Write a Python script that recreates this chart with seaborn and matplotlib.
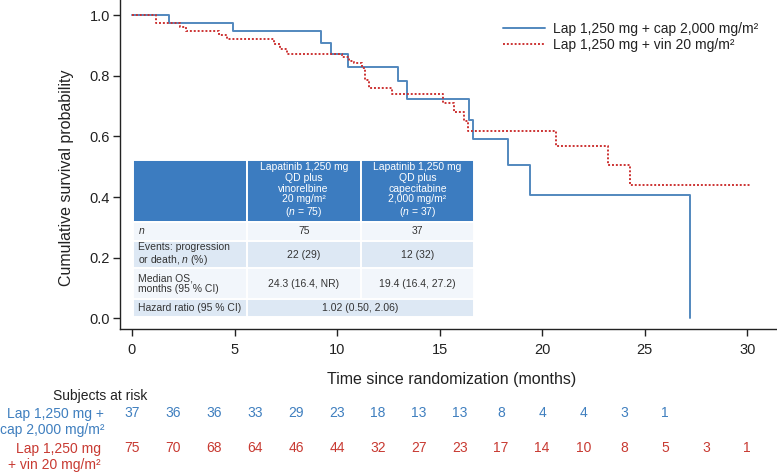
import numpy as np
import pandas as pd
import matplotlib
matplotlib.use("Agg")
import matplotlib.pyplot as plt
import matplotlib.transforms as mtransforms
from matplotlib.patches import Rectangle
import seaborn as sns

# ---------------- data ----------------
cap_label = "Lap 1,250 mg + cap 2,000 mg/m\u00b2"
vin_label = "Lap 1,250 mg + vin 20 mg/m\u00b2"

cap_time = [0, 1.82, 4.93, 9.20, 9.71, 10.52, 12.97, 13.40, 16.43, 16.62, 18.35, 19.43, 27.19]
cap_surv = [1.0, 0.973, 0.946, 0.907, 0.871, 0.830, 0.783, 0.722, 0.655, 0.590, 0.505, 0.406, 0.0]

vin_time = [0, 1.19, 2.36, 2.63, 4.26, 4.63, 6.91, 7.23, 7.56, 10.24, 10.57, 10.81, 11.22,
            11.38, 11.54, 12.70, 15.15, 15.70, 16.20, 16.37, 20.68, 23.20, 24.27, 30.20]
vin_surv = [1.0, 0.973, 0.960, 0.947, 0.933, 0.920, 0.903, 0.887, 0.870, 0.861, 0.848, 0.841,
            0.824, 0.786, 0.758, 0.740, 0.709, 0.679, 0.650, 0.619, 0.568, 0.505, 0.440, 0.440]

xticks = [0, 5, 10, 15, 20, 25, 30]
yticks = [0.0, 0.2, 0.4, 0.6, 0.8, 1.0]

risk_times_cap = [0, 2, 4, 6, 8, 10, 12, 14, 16, 18, 20, 22, 24, 26]
risk_cap = [37, 36, 36, 33, 29, 23, 18, 13, 13, 8, 4, 4, 3, 1]
risk_times_vin = [0, 2, 4, 6, 8, 10, 12, 14, 16, 18, 20, 22, 24, 26, 28, 30]
risk_vin = [75, 70, 68, 64, 46, 44, 32, 27, 23, 17, 14, 10, 8, 5, 3, 1]

tbl_header = ["",
              "Lapatinib 1,250 mg\nQD plus\nvinorelbine\n20 mg/m\u00b2\n($n$ = 75)",
              "Lapatinib 1,250 mg\nQD plus\ncapecitabine\n2,000 mg/m\u00b2\n($n$ = 37)"]
tbl_rows = [["$n$", "75", "37"],
            ["Events: progression\nor death, $n$ (%)", "22 (29)", "12 (32)"],
            ["Median OS,\nmonths (95 % CI)", "24.3 (16.4, NR)", "19.4 (16.4, 27.2)"],
            ["Hazard ratio (95 % CI)", "1.02 (0.50, 2.06)", None]]

# ---------------- style ----------------
sns.set_theme(style="ticks")
plt.rcParams["font.family"] = ["Liberation Sans", "DejaVu Sans"]
plt.rcParams["mathtext.fontset"] = "custom"
plt.rcParams["mathtext.rm"] = "Liberation Sans"
plt.rcParams["mathtext.it"] = "Liberation Sans:italic"

BLUE = "#5288be"
RED = "#cc3333"
BLUE_TXT = "#3f7fbf"
RED_TXT = "#c83a32"
HEAD = "#3c7cc0"
ROW_A = "#f2f6fb"
ROW_B = "#dde8f4"

W, H = 777, 473
fig = plt.figure(figsize=(W / 100, H / 100), dpi=100)
ax_l, ax_r, ax_t, ax_b = 120.5, 777, 0, 329.3
ax = fig.add_axes([ax_l / W, 1 - ax_b / H, (ax_r - ax_l) / W, (ax_b - ax_t) / H])

df_cap = pd.DataFrame({"time": cap_time, "surv": cap_surv})
df_vin = pd.DataFrame({"time": vin_time, "surv": vin_surv})

sns.lineplot(data=df_cap, x="time", y="surv", ax=ax, color=BLUE, lw=1.4,
             drawstyle="steps-post", label=cap_label, estimator=None)
sns.lineplot(data=df_vin, x="time", y="surv", ax=ax, color=RED, lw=1.4,
             drawstyle="steps-post", linestyle=(0, (1, 1)), label=vin_label, estimator=None)

ax.set_xlim(-0.56, 31.45)
ax.set_ylim(-0.036, 1.0495)
ax.set_xticks(xticks)
ax.set_xticklabels([str(v) for v in xticks])
ax.set_yticks(yticks)
ax.set_yticklabels([f"{v:.1f}" for v in yticks])
sns.despine(ax=ax)
for s in ["left", "bottom"]:
    ax.spines[s].set_color("#222222")
    ax.spines[s].set_linewidth(1.0)
ax.tick_params(axis="both", length=5.2, width=1.0, colors="#222222", labelsize=10.5,
               labelcolor="#222222")
ax.tick_params(axis="y", pad=2.5)
ax.tick_params(axis="x", pad=5)
ax.set_xlabel("Time since randomization (months)", fontsize=11.5, color="#222222")
ax.set_ylabel("Cumulative survival probability", fontsize=11.5, color="#222222")
ax.xaxis.set_label_coords((452 - ax_l) / (ax_r - ax_l), -(372 - ax_b) / ax_b)
ax.yaxis.set_label_coords(-(ax_l - 74) / (ax_r - ax_l), 1 - 177.5 / ax_b)
ax.grid(False)

leg = ax.legend(loc="upper left", bbox_to_anchor=(503 / W, 1 - 22 / H),
                bbox_transform=fig.transFigure, frameon=False, fontsize=10,
                handlelength=3.0, handletextpad=0.6, labelspacing=0.15,
                borderpad=0, borderaxespad=0)
for t in leg.get_texts():
    t.set_color("#222222")

# ---------------- inset table (pixel layout) ----------------
def px2ax(x, y):
    return (x - ax_l) / (ax_r - ax_l), (ax_b - y) / (ax_b - ax_t)

col_x = [133.3, 246.7, 360.7, 474.0]
row_y = [160.0, 221.7, 240.7, 268.3, 299.3, 316.7]
fs_t = 7.5

def cell(x0, x1, y0, y1, color):
    ax0, ay1 = px2ax(x0, y1)
    ax1, ay0 = px2ax(x1, y0)
    ax.add_patch(Rectangle((ax0, ay1), ax1 - ax0, ay0 - ay1, transform=ax.transAxes,
                           facecolor=color, edgecolor="white", lw=1.4, zorder=5,
                           clip_on=False))

# header
for j in range(3):
    cell(col_x[j], col_x[j + 1], row_y[0], row_y[1], HEAD)
    if tbl_header[j]:
        cx, cy = px2ax((col_x[j] + col_x[j + 1]) / 2, (row_y[0] + row_y[1]) / 2)
        ax.text(cx, cy, tbl_header[j], transform=ax.transAxes, ha="center", va="center",
                fontsize=fs_t, color="white", linespacing=1.08, zorder=6)
row_cols = [ROW_A, ROW_B, ROW_A, ROW_B]
for i, row in enumerate(tbl_rows):
    y0, y1 = row_y[i + 1], row_y[i + 2]
    cell(col_x[0], col_x[1], y0, y1, row_cols[i])
    lx, cy = px2ax(col_x[0] + 5, (y0 + y1) / 2)
    ax.text(lx, cy, row[0], transform=ax.transAxes, ha="left", va="center",
            fontsize=fs_t, color="#333333", linespacing=1.05, zorder=6)
    if row[2] is None:
        cell(col_x[1], col_x[3], y0, y1, row_cols[i])
        cx, _ = px2ax((col_x[1] + col_x[3]) / 2, 0)
        ax.text(cx, cy, row[1], transform=ax.transAxes, ha="center", va="center",
                fontsize=fs_t, color="#333333", zorder=6)
    else:
        for j in (1, 2):
            cell(col_x[j], col_x[j + 1], y0, y1, row_cols[i])
            cx, _ = px2ax((col_x[j] + col_x[j + 1]) / 2, 0)
            ax.text(cx, cy, row[j], transform=ax.transAxes, ha="center", va="center",
                    fontsize=fs_t, color="#333333", zorder=6)

# ---------------- numbers at risk ----------------
trans = mtransforms.blended_transform_factory(ax.transData, fig.transFigure)
fig.text(100 / W, 1 - 396 / H, "Subjects at risk", ha="center", va="center",
         fontsize=10, color="#222222")
fig.text(104 / W, 1 - 422 / H, "Lap 1,250 mg +\ncap 2,000 mg/m\u00b2", ha="right",
         va="center", multialignment="right", fontsize=10, color=BLUE_TXT, linespacing=1.15)
fig.text(101 / W, 1 - 457 / H, "Lap 1,250 mg\n+ vin 20 mg/m\u00b2", ha="right",
         va="center", multialignment="right", fontsize=10, color=RED_TXT, linespacing=1.15)
for t, n in zip(risk_times_cap, risk_cap):
    ax.text(t, 1 - 413 / H, str(n), transform=trans, ha="center", va="center",
            fontsize=10, color=BLUE_TXT, clip_on=False)
for t, n in zip(risk_times_vin, risk_vin):
    ax.text(t, 1 - 448 / H, str(n), transform=trans, ha="center", va="center",
            fontsize=10, color=RED_TXT, clip_on=False)

fig.savefig("out.png", dpi=100)
